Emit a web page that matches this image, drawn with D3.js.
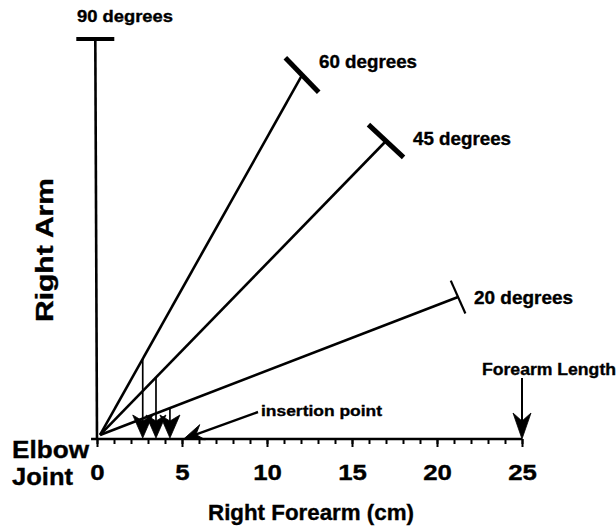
<!DOCTYPE html>
<html><head><meta charset="utf-8">
<script src="https://cdn.jsdelivr.net/npm/d3@7"></script>
<style>
body{margin:0;background:#fff}
text{font-family:"Liberation Sans",Arial,Helvetica,sans-serif;font-weight:bold;fill:#000;stroke:#000;stroke-width:0.35px}
</style>
</head><body>
<svg id="c" width="616" height="529"></svg>
<script>
// ---- data ----
const angleLabels = ["90 degrees", "60 degrees", "45 degrees", "20 degrees"];
const angleEndX = [-0.1, 12.06, 17.0, 21.24];   // cm
const angleEndY = [23.53, 21.41, 17.53, 8.35];  // cm
const lineOrigin = [0.18, 0.24];                // elbow joint (cm)
const insertionX = [null, 2.69, 3.47, 4.29];    // insertion (cm) for each line
const xTickLabels = [0, 5, 10, 15, 20, 25];
const minorTicks = d3.range(0, 26);
const forearmLength = 25;
const insertionPointX = 5.1;

// ---- layout ----
const svg = d3.select("#c");
const x = d3.scaleLinear().domain([0, 25]).range([97, 522]);
const y = d3.scaleLinear().domain([0, 25]).range([439, 14]);

function arrowHead(g, tx, ty, angleDeg, len, hw, notch) {
  g.append("path")
    .attr("d", `M0,0 L${-len},${-hw} L${-notch},0 L${-len},${hw} Z`)
    .attr("transform", `translate(${tx},${ty}) rotate(${angleDeg})`)
    .attr("fill", "#000").attr("stroke", "#000").attr("stroke-width", 0.8)
    .attr("stroke-linejoin", "miter");
}

// x axis: minor and major ticks
const axMinor = d3.axisBottom(x).tickValues(minorTicks).tickSize(5).tickFormat("");
const gMinor = svg.append("g").attr("transform", `translate(0,${y(0)})`).call(axMinor);
gMinor.select(".domain").remove();
gMinor.selectAll(".tick line").attr("stroke", "#000").attr("stroke-width", 2);

const axMajor = d3.axisBottom(x).tickValues(xTickLabels).tickSize(8);
const gMajor = svg.append("g").attr("transform", `translate(0,${y(0)})`).call(axMajor);
gMajor.select(".domain").remove();
gMajor.selectAll(".tick line").attr("stroke", "#000").attr("stroke-width", 2);
gMajor.selectAll(".tick text")
  .attr("y", 0).attr("dy", 0)
  .attr("transform", "translate(0,41) scale(1.2,1)")
  .style("font-size", "21.5px")
  .style("font-family", '"Liberation Sans",Arial,sans-serif')
  .style("font-weight", "bold")
  .attr("fill", "#000").attr("stroke", "#000").attr("stroke-width", 0.4);

// axis baseline
svg.append("line")
  .attr("x1", x(-0.35)).attr("x2", x(25))
  .attr("y1", y(0)).attr("y2", y(0))
  .attr("stroke", "#000").attr("stroke-width", 2.6);

// angle lines
const tickStyle = [
  {a: 0, l: 38, w: 4},
  {a: 46, l: 48, w: 5},
  {a: 43, l: 48, w: 5},
  {a: 66, l: 36, w: 2.2}
];
angleLabels.forEach((lab, i) => {
  const ox = i === 0 ? 0 : lineOrigin[0];
  const oy = i === 0 ? 0 : lineOrigin[1];
  svg.append("line")
    .attr("x1", x(ox)).attr("y1", y(oy))
    .attr("x2", x(angleEndX[i])).attr("y2", y(angleEndY[i]))
    .attr("stroke", "#000").attr("stroke-width", 2.6);
  const ts = tickStyle[i];
  const r = ts.a * Math.PI / 180;
  const cx = x(angleEndX[i]), cy = y(angleEndY[i]);
  svg.append("line")
    .attr("x1", cx - Math.cos(r) * ts.l / 2).attr("y1", cy - Math.sin(r) * ts.l / 2)
    .attr("x2", cx + Math.cos(r) * ts.l / 2).attr("y2", cy + Math.sin(r) * ts.l / 2)
    .attr("stroke", "#000").attr("stroke-width", ts.w);

  // insertion drop lines + arrows
  if (insertionX[i] !== null) {
    const xi = insertionX[i];
    const t = (xi - lineOrigin[0]) / (angleEndX[i] - lineOrigin[0]);
    const yi = lineOrigin[1] + t * (angleEndY[i] - lineOrigin[1]);
    svg.append("line")
      .attr("x1", x(xi)).attr("x2", x(xi))
      .attr("y1", y(yi)).attr("y2", y(0) - 16)
      .attr("stroke", "#000").attr("stroke-width", 1.7);
    arrowHead(svg, x(xi), y(0) - 1, 90, 23, 10, 17);
  }
});

// angle labels
const labelPos = [
  {x: 77, y: 22, w: 96, fs: 16.5},
  {x: 319, y: 68, w: 98, fs: 17.5},
  {x: 413, y: 145, w: 98, fs: 17.5},
  {x: 474, y: 304, w: 99, fs: 17.5}
];
function label(t, px, py, w, fs, anchor) {
  return svg.append("text").text(t)
    .attr("x", px).attr("y", py)
    .attr("text-anchor", anchor || "start")
    .attr("textLength", w).attr("lengthAdjust", "spacingAndGlyphs")
    .style("font-size", fs + "px");
}
angleLabels.forEach((lab, i) => {
  const p = labelPos[i];
  label(lab, p.x, p.y, p.w, p.fs);
});

// Forearm length arrow
svg.append("line")
  .attr("x1", x(forearmLength)).attr("x2", x(forearmLength))
  .attr("y1", 378).attr("y2", y(0) - 18)
  .attr("stroke", "#000").attr("stroke-width", 2);
arrowHead(svg, x(forearmLength), y(0), 90, 26, 9, 18);
label("Forearm Length", 482, 375, 134, 16);

// insertion point arrow
const ipStart = [258, 412];
const tipX = x(insertionPointX), tipY = y(0);
const ang = Math.atan2(tipY - ipStart[1], tipX - ipStart[0]) * 180 / Math.PI;
svg.append("line")
  .attr("x1", ipStart[0]).attr("y1", ipStart[1])
  .attr("x2", tipX + (ipStart[0] - tipX) * 0.15).attr("y2", tipY + (ipStart[1] - tipY) * 0.15)
  .attr("stroke", "#000").attr("stroke-width", 2.4);
arrowHead(svg, tipX, tipY, ang, 20, 8, 13);
label("insertion point", 261, 416, 121, 15);

// axis titles
label("Elbow", 12, 458, 77, 23.5);
label("Joint", 12, 485, 61, 23.5);
label("Right Forearm (cm)", 208, 520, 206, 21.5);
svg.append("text").text("Right Arm")
  .attr("transform", "translate(53,250) rotate(-90)")
  .attr("text-anchor", "middle")
  .attr("textLength", 144).attr("lengthAdjust", "spacingAndGlyphs")
  .style("font-size", "23.5px");
</script>
</body></html>
